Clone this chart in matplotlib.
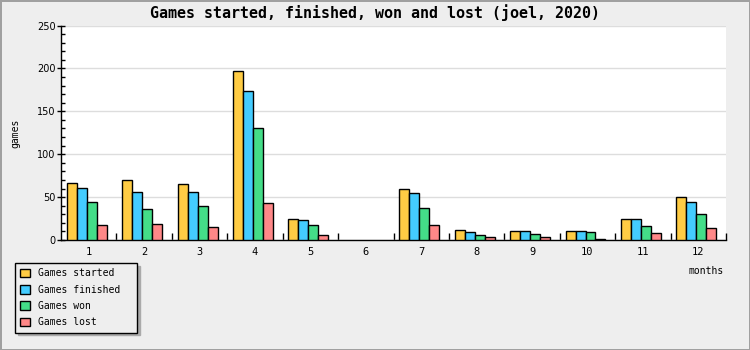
"""
plot.py — games started / finished / won / lost per month (joel, 2020)
"""
import numpy as np
import matplotlib
matplotlib.use('Agg')
import matplotlib.pyplot as plt
from matplotlib.ticker import MultipleLocator, FixedLocator

# ── data ────────────────────────────────────────────────
months = ['1', '2', '3', '4', '5', '6', '7', '8', '9', '10', '11', '12']
started = [67, 70, 65, 197, 24, 0, 59, 12, 10, 10, 24, 50]
finished = [61, 56, 56, 174, 23, 0, 55, 9, 10, 10, 24, 44]
won = [44, 36, 40, 131, 17, 0, 37, 6, 7, 9, 16, 30]
lost = [17, 19, 15, 43, 6, 0, 17, 3, 3, 1, 8, 14]
series_names = ['Games started', 'Games finished', 'Games won', 'Games lost']

COLORS = ['#ffcc44', '#44ccff', '#44dd88', '#ff8888']
BG = '#eeeeee'
MONO = ['DejaVu Sans Mono']

fig = plt.figure(figsize=(7.5, 3.5), dpi=100)
fig.patch.set_facecolor(BG)
fig.patch.set_edgecolor('#a0a0a0')
fig.patch.set_linewidth(2)

ax = fig.add_axes([61 / 750, 110 / 350, 665 / 750, 214.5 / 350])
ax.set_facecolor('white')

x = np.arange(len(months))
w = 0.18
shift = -0.035
for i, (vals, name) in enumerate(zip([started, finished, won, lost], series_names)):
    vals = np.asarray(vals, dtype=float)
    # zero-height bars leave no mark in the original
    lw = np.where(vals > 0, 1.0, 0.0)
    ax.bar(x + shift + (i - 1.5) * w, vals, width=w, color=COLORS[i],
           edgecolor='black', linewidth=lw, label=name, zorder=3)

ax.set_xlim(-0.5, len(months) - 0.5)
ax.set_ylim(0, 250)

# y axis
ax.yaxis.set_major_locator(MultipleLocator(50))
ax.yaxis.set_minor_locator(MultipleLocator(10))
ax.tick_params(axis='y', which='major', direction='inout', length=6, width=1,
               labelsize=7, pad=1)
ax.tick_params(axis='y', which='minor', direction='in', length=3, width=1)
ax.grid(axis='y', color='#dddddd', lw=1, zorder=0)

# x axis: labels at centres, tick marks between months
ax.set_xticks(x)
ax.set_xticklabels(months, family=MONO, fontsize=7.5)
ax.xaxis.set_minor_locator(FixedLocator(np.arange(-0.5, len(months), 1.0)[1:]))
ax.tick_params(axis='x', which='major', length=0, pad=5)
ax.tick_params(axis='x', which='minor', direction='in', length=5, width=1)

for s in ['top', 'right']:
    ax.spines[s].set_visible(False)
for s in ['left', 'bottom']:
    ax.spines[s].set_color('black')
    ax.spines[s].set_linewidth(1)

fig.text(0.5, 1 - 13 / 350, 'Games started, finished, won and lost (joel, 2020)',
         ha='center', va='center', family=MONO, fontsize=10.8, fontweight='bold')
fig.text(15 / 750, 1 - 133 / 350, 'games', rotation=90, ha='center', va='center',
         family=MONO, fontsize=7)
fig.text(724 / 750, 1 - 271 / 350, 'months', ha='right', va='center',
         family=MONO, fontsize=7)

leg = fig.legend(loc='upper left', mode='expand',
                 bbox_to_anchor=(15 / 750, 1 - 332 / 350, 122 / 750, 69 / 350),
                 borderaxespad=0, frameon=True, fancybox=False,
                 shadow={'color': '#aaaaaa', 'alpha': 1},
                 prop={'family': MONO, 'size': 7}, handlelength=1, handleheight=1,
                 handletextpad=0.85, labelspacing=0.65, borderpad=0.55)
leg.get_frame().set_edgecolor('black')
leg.get_frame().set_facecolor(BG)
leg.get_frame().set_linewidth(1)

fig.savefig('out.png', dpi=100, facecolor=fig.get_facecolor(),
            edgecolor=fig.get_edgecolor())
